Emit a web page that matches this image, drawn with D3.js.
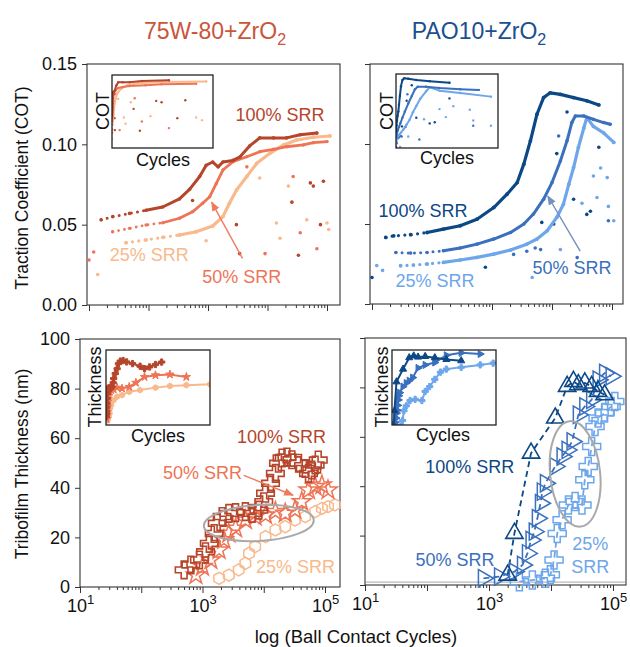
<!DOCTYPE html>
<html>
<head>
<meta charset="utf-8">
<title>Traction and tribofilm, ZrO2</title>
<style>
  body { margin: 0; background: #fff; }
  text { font-family: "Liberation Sans", Arial, Helvetica, sans-serif; }
</style>
</head>
<body>
<script src="https://cdn.jsdelivr.net/npm/d3@7/dist/d3.min.js"></script>
<script>
// ---- data: [ball contact cycles, value] ----
// traction coefficient, 75W-80 + ZrO2
var cot75w100 = [[16,0.053],[25,0.055],[48,0.057],[91,0.059],[173,0.061],[331,0.066],[490,0.072],[724,0.080],[933,0.087],[1200,0.089],[1480,0.086],[1780,0.089],[2630,0.090],[3390,0.092],[5010,0.099],[7410,0.104],[12600,0.104],[20900,0.104],[35500,0.106],[67600,0.107]];
var cot75w50 = [[25,0.0456],[48,0.0477],[91,0.0498],[174,0.0512],[331,0.054],[550,0.058],[813,0.0633],[1070,0.0674],[1380,0.0757],[1780,0.084],[2630,0.0892],[4470,0.0923],[7410,0.0954],[12600,0.0969],[20900,0.0985],[39800,0.0996],[58900,0.101],[100000,0.1017]];
var cot75w25 = [[42,0.0388],[91,0.0405],[174,0.0421],[331,0.0436],[631,0.0456],[1200,0.0492],[1780,0.055],[2290,0.0633],[3020,0.0716],[4470,0.0799],[6610,0.0882],[11000,0.0944],[18600,0.0996],[30900,0.1027],[58900,0.1044],[112000,0.1052]];
var cot75wStray100 = [[550,0.065],[3000,0.050],[3400,0.032],[25700,0.064],[33100,0.031],[52500,0.076],[58900,0.074],[77600,0.050],[87100,0.077]];
var cot75wStray50 = [[10,0.028],[12,0.033],[4500,0.086],[9100,0.032],[27000,0.080],[35500,0.045],[67600,0.035]];
var cot75wStray25 = [[14,0.019],[930,0.040],[7400,0.079],[14100,0.051],[16200,0.0415],[22400,0.074],[45700,0.053],[100000,0.051],[107000,0.047]];

// traction coefficient, PAO10 + ZrO2
var cotPao100 = [[17,0.0416],[23,0.0426],[44,0.0433],[83,0.0447],[155,0.0468],[295,0.0489],[562,0.053],[1070,0.0603],[1780,0.0686],[2630,0.0759],[3390,0.0874],[4370,0.102],[5620,0.1186],[7240,0.129],[9330,0.132],[13800,0.131],[22900,0.129],[38000,0.127],[60300,0.1244]];
var cotPao50 = [[25,0.0322],[44,0.0318],[83,0.0322],[155,0.0333],[295,0.035],[562,0.0374],[1070,0.0406],[2040,0.0447],[3390,0.050],[4900,0.0562],[7240,0.0655],[10000,0.0759],[13800,0.0894],[17800,0.102],[21400,0.1134],[24500,0.1175],[33900,0.1175],[49000,0.1154],[72400,0.1134],[93300,0.1123]];
var cotPao25 = [[30,0.0239],[49,0.0243],[83,0.025],[155,0.026],[295,0.0275],[562,0.0291],[1070,0.0312],[2040,0.0337],[3800,0.0374],[5620,0.0406],[8320,0.0458],[12000,0.0541],[15500,0.0624],[19100,0.0749],[22900,0.0853],[27500,0.0978],[33900,0.110],[38000,0.1165],[49000,0.111],[72400,0.107],[107000,0.101]];
var cotPaoStray100 = [[10,0.0166],[776,0.023],[6760,0.051],[10700,0.050],[12000,0.094],[17800,0.120],[22900,0.0655],[38000,0.056],[43700,0.058],[60300,0.098]];
var cotPaoStray50 = [[2290,0.031],[3800,0.033],[5250,0.035],[6460,0.034],[12900,0.105],[26300,0.029],[87100,0.052]];
var cotPaoStray25 = [[12,0.024],[15,0.021],[4680,0.0166],[13800,0.034],[31600,0.063],[49000,0.080],[56200,0.0666],[64600,0.085],[83200,0.079],[87100,0.061],[107000,0.052]];

// tribofilm thickness (nm), 75W-80 + ZrO2
var thk75w100 = [[501,6.9],[646,8.9],[891,10.9],[1120,14.2],[1290,17.6],[1550,21.6],[1740,25.7],[2090,28.4],[2690,29.7],[3470,30.0],[5010,30.4],[6460,29.7],[8320,31.0],[10000,34.4],[10700,37.8],[12900,41.8],[15500,45.8],[17400,49.9],[19900,52.0],[23900,52.4],[28800,51.3],[37000,49.9],[47500,47.8],[53700,45.8],[60800,47.2],[69000,49.2],[77600,51.2]];
var thk75w50 = [[780,4.8],[1000,8.2],[1370,10.9],[1870,14.9],[2240,19.0],[2690,21.6],[3470,23.7],[5010,27.0],[7240,28.4],[10700,29.0],[15500,30.4],[22400,29.7],[32400,31.0],[41700,34.4],[53700,39.1],[69000,40.5],[89100,41.1],[112000,39.1]];
var thk75w25 = [[1870,3.5],[2690,4.8],[3890,6.9],[5010,9.5],[5750,13.6],[7240,16.3],[10700,20.3],[15500,23.0],[22400,24.3],[32400,27.0],[47500,28.4],[69000,30.4],[89100,31.7],[112000,32.4],[145000,33.1]];

// tribofilm thickness (nm), PAO10 + ZrO2
var thkPao100 = [[2000,4.0],[2570,20.9],[4770,53.4],[11700,67.6],[18200,80.4],[23000,82.4],[27600,81.1],[35100,81.8],[45300,80.4],[57500,78.4],[73200,77.0]];
var thkPao50 = [[813,2.7],[1480,3.4],[2570,5.4],[3470,8.1],[4170,12.8],[4770,18.2],[5370,21.6],[6030,27.0],[6760,33.1],[7240,37.8],[8130,41.2],[11700,48.0],[15100,52.0],[18200,54.7],[21900,58.1],[27600,68.9],[35100,72.3],[45300,75.0],[57500,83.1],[73200,85.8],[93300,84.5]];
var thkPao25 = [[3090,1.35],[5010,2.0],[8130,2.7],[9770,4.1],[11200,10.1],[12600,20.9],[15100,26.4],[19100,32.4],[24500,33.8],[31600,32.4],[35100,42.6],[39800,48.0],[45300,56.1],[51300,64.2],[57500,67.6],[73200,69.6],[93300,72.3],[107000,74.3]];

var yTicksCot = [0, 0.05, 0.10, 0.15];
var yTicksThk = [0, 20, 40, 60, 80, 100];
var xMajor = [10, 100, 1000, 10000, 100000];

var orange = ["#b5452b", "#ee7456", "#f8b98c"];
var blue = ["#0c4886", "#3a70bd", "#6ea6ea"];

var svg = d3.select("body").append("svg")
    .attr("width", 630)
    .attr("height", 647);

var defs = svg.append("defs");

// hollow hexagon marker for the 25% SRR oil series
var symbolHex = {
    draw: function (ctx, size) {
        var r = Math.sqrt(size / 2.598);
        for (var i = 0; i < 6; i++) {
            var a = Math.PI / 3 * i + Math.PI / 6;
            if (i == 0) ctx.moveTo(r * Math.cos(a), r * Math.sin(a));
            else ctx.lineTo(r * Math.cos(a), r * Math.sin(a));
        }
        ctx.closePath();
    }
};

function arrowHead(id, color) {
    defs.append("marker")
        .attr("id", id)
        .attr("viewBox", "0 0 10 10")
        .attr("refX", 9).attr("refY", 5)
        .attr("markerWidth", 7).attr("markerHeight", 7)
        .attr("orient", "auto")
        .append("path")
        .attr("d", "M0,1 L10,5 L0,9 Z")
        .attr("fill", color);
}
arrowHead("arrO", "#ef7a5c");
arrowHead("arrB", "#7391bb");

// builds one main panel: frame, ticks and scales
function panel(p) {
    var x = d3.scaleLog().domain([10, 1e5]).range(p.xr);
    var y = d3.scaleLinear().domain(p.yd).range(p.yr);
    var g = svg.append("g");

    var minors = [];
    for (var e = 1; e <= 5; e++) {
        for (var k = 2; k < 10; k++) {
            var v = k * Math.pow(10, e);
            if (x(v) < p.right - 1) minors.push(v);
        }
    }
    g.append("g")
        .attr("transform", "translate(0," + p.bottom + ")")
        .call(d3.axisBottom(x).tickValues(minors).tickSize(3).tickFormat(""))
        .call(function (a) { a.select(".domain").remove(); });

    var xa = g.append("g")
        .attr("transform", "translate(0," + p.bottom + ")")
        .call(d3.axisBottom(x).tickValues(xMajor).tickSize(6).tickPadding(4).tickFormat(""));
    xa.select(".domain").remove();
    if (p.xLabels) {
        xa.selectAll(".tick").filter(function (d) { return d == 10 || d == 1000 || d == 100000; })
            .append("text")
            .attr("fill", "#111")
            .attr("y", 25)
            .attr("text-anchor", "middle")
            .attr("font-size", 18)
            .each(function (d) {
                var t = d3.select(this);
                t.append("tspan").text("10");
                t.append("tspan").attr("dy", -8).attr("font-size", 13).text(Math.round(Math.log10(d)));
            });
    }

    var ya = g.append("g")
        .attr("transform", "translate(" + p.left + ",0)")
        .call(d3.axisLeft(y).tickValues(p.yTicks).tickSize(5).tickPadding(5)
            .tickFormat(p.yLabels ? p.yFmt : ""));
    ya.select(".domain").remove();
    ya.selectAll("text").attr("font-size", 18).attr("fill", "#111");

    g.selectAll(".tick line").attr("stroke", "#333");

    g.append("rect")
        .attr("x", p.left).attr("y", p.top)
        .attr("width", p.right - p.left).attr("height", p.bottom - p.top)
        .attr("fill", "none").attr("stroke", "#333").attr("stroke-width", 1.1);

    var body = svg.append("g");
    return { x: x, y: y, g: body };
}

// small linear-axis inset with the same data
function inset(b, xd, yd, id) {
    var x = d3.scaleLinear().domain(xd).range([b.x0, b.x1]);
    var y = d3.scaleLinear().domain(yd).range([b.y1, b.y0]);
    defs.append("clipPath").attr("id", id)
        .append("rect").attr("x", b.x0).attr("y", b.y0)
        .attr("width", b.x1 - b.x0).attr("height", b.y1 - b.y0);
    svg.append("rect")
        .attr("x", b.x0).attr("y", b.y0)
        .attr("width", b.x1 - b.x0).attr("height", b.y1 - b.y0)
        .attr("fill", "#fff");
    var g = svg.append("g").attr("clip-path", "url(#" + id + ")");
    return { x: x, y: y, g: g, frame: function () {
        svg.append("rect")
            .attr("x", b.x0).attr("y", b.y0)
            .attr("width", b.x1 - b.x0).attr("height", b.y1 - b.y0)
            .attr("fill", "none").attr("stroke", "#222").attr("stroke-width", 1.3);
    } };
}

// COT trace: beaded at low cycle counts, solid once the points crowd together
function dotted(P, data, color, lw, r, cut) {
    var line = d3.line().x(function (d) { return P.x(d[0]); }).y(function (d) { return P.y(d[1]); });
    var low = data.filter(function (d) { return d[0] <= cut; });
    var high = data.filter(function (d) { return d[0] >= cut; });
    if (low.length) high.unshift(low[low.length - 1]);
    if (low.length > 1) {
        P.g.append("path")
            .datum(low)
            .attr("fill", "none")
            .attr("stroke", color)
            .attr("stroke-width", lw)
            .attr("stroke-linecap", "round")
            .attr("stroke-dasharray", "0," + (lw + 3.2))
            .attr("d", line);
    }
    P.g.append("path")
        .datum(high)
        .attr("fill", "none")
        .attr("stroke", color)
        .attr("stroke-width", lw)
        .attr("stroke-linejoin", "round")
        .attr("stroke-linecap", "round")
        .attr("d", line);
    strays(P, data, color, r);
}

function strays(P, data, color, r) {
    P.g.selectAll(null)
        .data(data)
        .enter()
        .append("circle")
        .attr("cx", function (d) { return P.x(d[0]); })
        .attr("cy", function (d) { return P.y(d[1]); })
        .attr("r", r)
        .attr("fill", color);
}

function markers(P, data, color, type, size, rot, filled, sw) {
    var sym = d3.symbol().type(type).size(size);
    P.g.selectAll(null)
        .data(data)
        .enter()
        .append("path")
        .attr("d", sym)
        .attr("transform", function (d) {
            return "translate(" + P.x(d[0]) + "," + P.y(d[1]) + ") rotate(" + rot + ")";
        })
        .attr("fill", filled ? color : "none")
        .attr("stroke", color)
        .attr("stroke-width", sw);
}

function dashed(P, data, color) {
    P.g.append("path")
        .datum(data)
        .attr("fill", "none")
        .attr("stroke", color)
        .attr("stroke-width", 1.8)
        .attr("stroke-dasharray", "6,4")
        .attr("d", d3.line().x(function (d) { return P.x(d[0]); }).y(function (d) { return P.y(d[1]); }));
}

function label(P, cx, v, txt, color, size) {
    svg.append("text")
        .attr("x", P.x(cx)).attr("y", P.y(v))
        .attr("text-anchor", "middle")
        .attr("dominant-baseline", "central")
        .attr("font-size", size || 18)
        .attr("fill", color)
        .text(txt);
}

function arrow(P, from, to, color, id) {
    svg.append("line")
        .attr("x1", P.x(from[0])).attr("y1", P.y(from[1]))
        .attr("x2", P.x(to[0])).attr("y2", P.y(to[1]))
        .attr("stroke", color).attr("stroke-width", 1.4)
        .attr("marker-end", "url(#" + id + ")");
}

function ellipse(P, c, rx, ry, rot) {
    svg.append("ellipse")
        .attr("cx", 0).attr("cy", 0)
        .attr("rx", rx).attr("ry", ry)
        .attr("transform", "translate(" + P.x(c[0]) + "," + P.y(c[1]) + ") rotate(" + rot + ")")
        .attr("fill", "none")
        .attr("stroke", "#a9a9a9")
        .attr("stroke-width", 2);
}

function insetText(x, y, txt, rotate) {
    svg.append("text")
        .attr("transform", "translate(" + x + "," + y + ")" + (rotate ? " rotate(-90)" : ""))
        .attr("text-anchor", "middle")
        .attr("dominant-baseline", "central")
        .attr("font-size", 18)
        .attr("fill", "#111")
        .text(txt);
}

// ---------- top left: COT, 75W-80 ----------
var TL = panel({ left: 87, right: 340, top: 64, bottom: 305, xr: [89, 327], yd: [0, 0.15], yr: [305, 64],
    yTicks: yTicksCot, yLabels: true, yFmt: d3.format(".2f"), xLabels: false });
strays(TL, cot75wStray100, orange[0], 1.8);
strays(TL, cot75wStray50, orange[1], 1.8);
strays(TL, cot75wStray25, orange[2], 1.8);
dotted(TL, cot75w25, orange[2], 3.2, 1.9, 400);
dotted(TL, cot75w50, orange[1], 2.8, 1.7, 200);
dotted(TL, cot75w100, orange[0], 3.0, 1.8, 150);
label(TL, 16200, 0.118, "100% SRR", orange[0]);
label(TL, 103, 0.031, "25% SRR", orange[2]);
label(TL, 3700, 0.0174, "50% SRR", orange[1]);
arrow(TL, [3800, 0.029], [1150, 0.064], "#ef7a5c", "arrO");

var TLi = inset({ x0: 112, x1: 213, y0: 75, y1: 148 }, [0, 120000], [0.005, 0.115], "clipTL");
[cot75wStray100, cot75wStray50, cot75wStray25].forEach(function (s, i) { strays(TLi, s, orange[i], 1.2); });
dotted(TLi, cot75w25, orange[2], 2, 1.2, 0);
dotted(TLi, cot75w50, orange[1], 2, 1.2, 0);
dotted(TLi, cot75w100, orange[0], 2, 1.2, 0);
TLi.frame();
insetText(103, 111, "COT", true);
insetText(163, 160, "Cycles", false);

// ---------- top right: COT, PAO10 ----------
var TR = panel({ left: 370, right: 623, top: 64, bottom: 304, xr: [372, 612], yd: [0, 0.15], yr: [304, 64],
    yTicks: yTicksCot, yLabels: false, yFmt: d3.format(".2f"), xLabels: false });
strays(TR, cotPaoStray100, blue[0], 1.8);
strays(TR, cotPaoStray50, blue[1], 1.8);
strays(TR, cotPaoStray25, blue[2], 1.8);
dotted(TR, cotPao25, blue[2], 3.2, 1.9, 160);
dotted(TR, cotPao50, blue[1], 3.0, 1.8, 160);
dotted(TR, cotPao100, blue[0], 3.2, 1.9, 90);
label(TR, 71, 0.058, "100% SRR", blue[0]);
label(TR, 112, 0.0144, "25% SRR", blue[2]);
label(TR, 21500, 0.0225, "50% SRR", blue[1]);
arrow(TR, [29500, 0.033], [8500, 0.0675], "#7391bb", "arrB");

var TRi = inset({ x0: 396, x1: 498, y0: 74, y1: 148 }, [0, 115000], [0.0147, 0.139], "clipTR");
[cotPaoStray100, cotPaoStray50, cotPaoStray25].forEach(function (s, i) { strays(TRi, s, blue[i], 1.2); });
dotted(TRi, cotPao25, blue[2], 2, 1.2, 0);
dotted(TRi, cotPao50, blue[1], 2, 1.2, 0);
dotted(TRi, cotPao100, blue[0], 2, 1.2, 0);
TRi.frame();
insetText(387, 111, "COT", true);
insetText(447, 158, "Cycles", false);

// ---------- bottom left: thickness, 75W-80 ----------
var BL = panel({ left: 80, right: 340, top: 339, bottom: 587, xr: [80, 325], yd: [0, 100], yr: [587, 339],
    yTicks: yTicksThk, yLabels: true, yFmt: d3.format("d"), xLabels: true });
markers(BL, thk75w25, orange[2], symbolHex, 95, 0, false, 1.5);
markers(BL, thk75w50, orange[1], d3.symbolStar, 110, 0, false, 1.5);
markers(BL, thk75w100, orange[0], d3.symbolCross, 170, 0, false, 1.6);
ellipse(BL, [8300, 25.8], 55, 18, -3);
label(BL, 19500, 60.5, "100% SRR", orange[0]);
label(BL, 1000, 46, "50% SRR", orange[1]);
label(BL, 33000, 8, "25% SRR", orange[2]);
arrow(BL, [4700, 45], [30000, 37], "#ef7a5c", "arrO");

var BLi = inset({ x0: 106, x1: 210, y0: 350, y1: 425 }, [0, 145000], [0, 61], "clipBL");
[thk75w25, thk75w50, thk75w100].forEach(function (s, i) {
    var c = orange[2 - i];
    BLi.g.append("path").datum(s)
        .attr("fill", "none").attr("stroke", c).attr("stroke-width", 2)
        .attr("d", d3.line().x(function (d) { return BLi.x(d[0]); }).y(function (d) { return BLi.y(d[1]); }));
    markers(BLi, s, c, [symbolHex, d3.symbolStar, d3.symbolCross][i], 22, 0, true, 1);
});
BLi.frame();
insetText(95, 387, "Thickness", true);
insetText(158, 436, "Cycles", false);

// ---------- bottom right: thickness, PAO10 ----------
var BR = panel({ left: 365, right: 626, top: 338, bottom: 585, xr: [365, 613], yd: [0, 100], yr: [585, 338],
    yTicks: yTicksThk, yLabels: false, yFmt: d3.format("d"), xLabels: true });
BR.g.append("line")
    .attr("x1", 366).attr("x2", 625)
    .attr("y1", BR.y(1.2)).attr("y2", BR.y(1.2))
    .attr("stroke", "#b8b8b8").attr("stroke-width", 1.3);
dashed(BR, thkPao25, blue[2]);
dashed(BR, thkPao50, blue[1]);
dashed(BR, thkPao100, blue[0]);
markers(BR, thkPao25, blue[2], d3.symbolCross, 180, 0, false, 1.5);
markers(BR, thkPao50, blue[1], d3.symbolTriangle, 130, 90, false, 1.5);
markers(BR, thkPao100, blue[0], d3.symbolTriangle, 130, 0, false, 1.6);
ellipse(BR, [24500, 45], 25, 53, -6);
label(BR, 490, 47.6, "100% SRR", blue[0]);
label(BR, 283, 10, "50% SRR", blue[1]);
label(BR, 43000, 16.5, "25%", blue[2]);
label(BR, 43000, 7.3, "SRR", blue[2]);

var BRi = inset({ x0: 392, x1: 496, y0: 350, y1: 425 }, [0, 110000], [5, 89], "clipBR");
[thkPao25, thkPao50, thkPao100].forEach(function (s, i) {
    var c = blue[2 - i];
    BRi.g.append("path").datum(s)
        .attr("fill", "none").attr("stroke", c).attr("stroke-width", 2)
        .attr("d", d3.line().x(function (d) { return BRi.x(d[0]); }).y(function (d) { return BRi.y(d[1]); }));
    markers(BRi, s, c, [d3.symbolCross, d3.symbolTriangle, d3.symbolTriangle][i], 22, i == 1 ? 90 : 0, true, 1);
});
BRi.frame();
insetText(382, 387, "Thickness", true);
insetText(443, 435, "Cycles", false);

// ---------- titles and axis titles ----------
function title(x, txt, color) {
    var t = svg.append("text")
        .attr("x", x).attr("y", 39)
        .attr("text-anchor", "middle")
        .attr("font-size", 23)
        .attr("fill", color);
    t.append("tspan").text(txt);
    t.append("tspan").attr("dy", 6).attr("font-size", 16).text("2");
}
title(215, "75W-80+ZrO", "#c9553c");
title(479, "PAO10+ZrO", "#1b4f8e");

svg.append("text")
    .attr("transform", "translate(22,188) rotate(-90)")
    .attr("text-anchor", "middle")
    .attr("dominant-baseline", "central")
    .attr("font-size", 17.5)
    .attr("fill", "#111")
    .text("Traction Coefficient (COT)");
svg.append("text")
    .attr("transform", "translate(22,464) rotate(-90)")
    .attr("text-anchor", "middle")
    .attr("dominant-baseline", "central")
    .attr("font-size", 17.5)
    .attr("fill", "#111")
    .text("Tribofilm Thickness (nm)");
svg.append("text")
    .attr("x", 356).attr("y", 643)
    .attr("text-anchor", "middle")
    .attr("font-size", 18.5)
    .attr("fill", "#111")
    .text("log (Ball Contact Cycles)");
</script>
</body>
</html>
